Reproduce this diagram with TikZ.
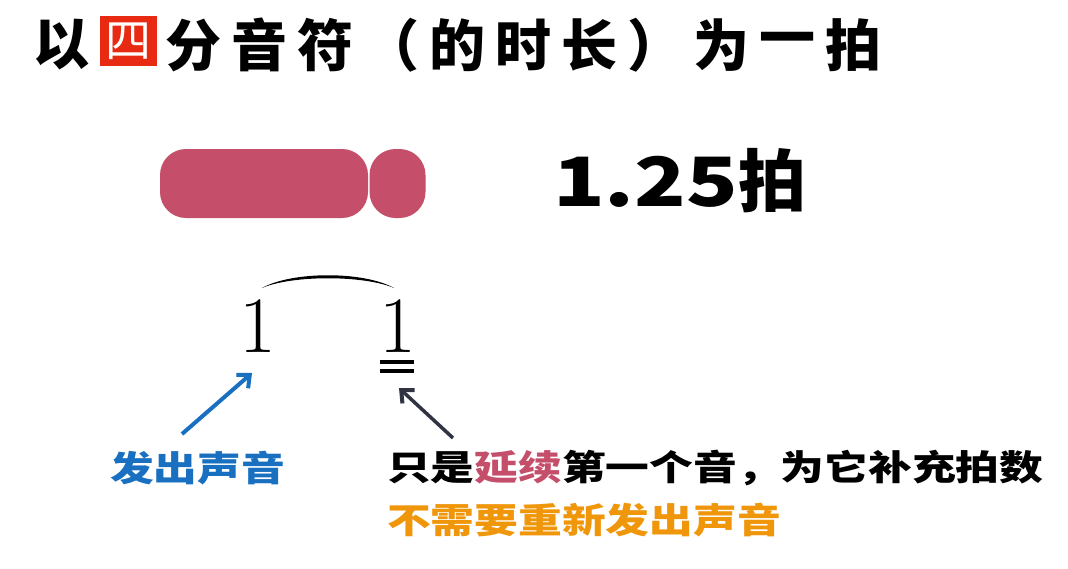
\documentclass[tikz,border=0pt]{standalone}
\usepackage{fontspec}
\usetikzlibrary{arrows.meta}
\newfontfamily\cjk{Noto Sans CJK SC}
\definecolor{pinkbar}{RGB}{197,78,106}
\definecolor{blueT}{RGB}{25,112,192}
\definecolor{orangeT}{RGB}{240,150,10}
\definecolor{redbox}{RGB}{232,42,18}
\definecolor{darkarrow}{RGB}{48,52,66}
\newcommand{\wide}[1]{\scalebox{1.25}[1]{#1}}
\tikzset{
  titlech/.style={font=\cjk\bfseries\fontsize{56}{56}\selectfont, inner sep=0pt},
  bar/.style={fill=pinkbar, rounded corners=26pt, draw=none, inner sep=0pt},
  label/.style={font=\cjk\bfseries\fontsize{35}{35}\selectfont, inner sep=0pt, anchor=west},
  digit/.style={font=\fontsize{80}{80}\selectfont, inner sep=0pt},
  pointer/.style={line width=4pt, -{Straight Barb[length=10pt,width=18pt,line width=4pt]}},
}
\begin{document}
\begin{tikzpicture}[x=1pt,y=-1pt]
\useasboundingbox (0,0) rectangle (1068,568);
\fill[white] (0,0) rectangle (1068,568);
% title
\fill[redbox] (100,16) rectangle (157,66);
\foreach \c [count=\i] in {以,四,分,音,符,（,的,时,长,）,为,一,拍}{
  \pgfmathsetmacro{\xx}{61+66*(\i-1)}
  \ifnum\i=2
    \node[font=\cjk\fontsize{46}{46}\selectfont, inner sep=0pt, text=white] (t\i) at (128.5,41) {\c};
  \else
    \node[titlech] (t\i) at (\xx,45) {\c};
  \fi
}
% bars
\node[bar, minimum width=208pt, minimum height=69pt] (b1) at (264,183.5) {};
\node[bar, minimum width=56pt, minimum height=69pt] (b2) at (397.5,183.5) {};
\node[font=\cjk\bfseries\fontsize{68}{68}\selectfont, inner sep=0pt, anchor=west] (beats) at (553,181) {\scalebox{1.25}[1]{1.25}拍};
% notation
\node[digit] (n1) at (258,326) {1};
\node[digit] (n2) at (398,326) {1};
\coordinate (tieL) at (262,288);
\coordinate (tieR) at (394,288);
\fill (tieL) .. controls (292,271) and (364,271) .. (tieR)
      .. controls (364,275) and (292,275) .. (tieL) -- cycle;
\coordinate (u1a) at (380,362); \coordinate (u1b) at (414,362);
\coordinate (u2a) at (380,371); \coordinate (u2b) at (414,371);
\draw[line width=3.5pt] (u1a) -- (u1b);
\draw[line width=3.5pt] (u2a) -- (u2b);
% arrows
\coordinate (ba) at (182,434); \coordinate (bt) at (252,373);
\draw[pointer, blueT] (ba) -- (bt);
\coordinate (da) at (453,438); \coordinate (dt) at (399,388);
\draw[pointer, darkarrow, line width=3.5pt] (da) -- (dt);
% labels
\node[label, text=blueT] (l1) at (110,468) {\wide{发出声音}};
\node[label] (l2) at (387,468) {\wide{只是\textcolor{pinkbar}{延续}第一个音，为它补充拍数}};
\node[label, text=orangeT] (l3) at (387,520) {\wide{不需要重新发出声音}};
\end{tikzpicture}
\end{document}
